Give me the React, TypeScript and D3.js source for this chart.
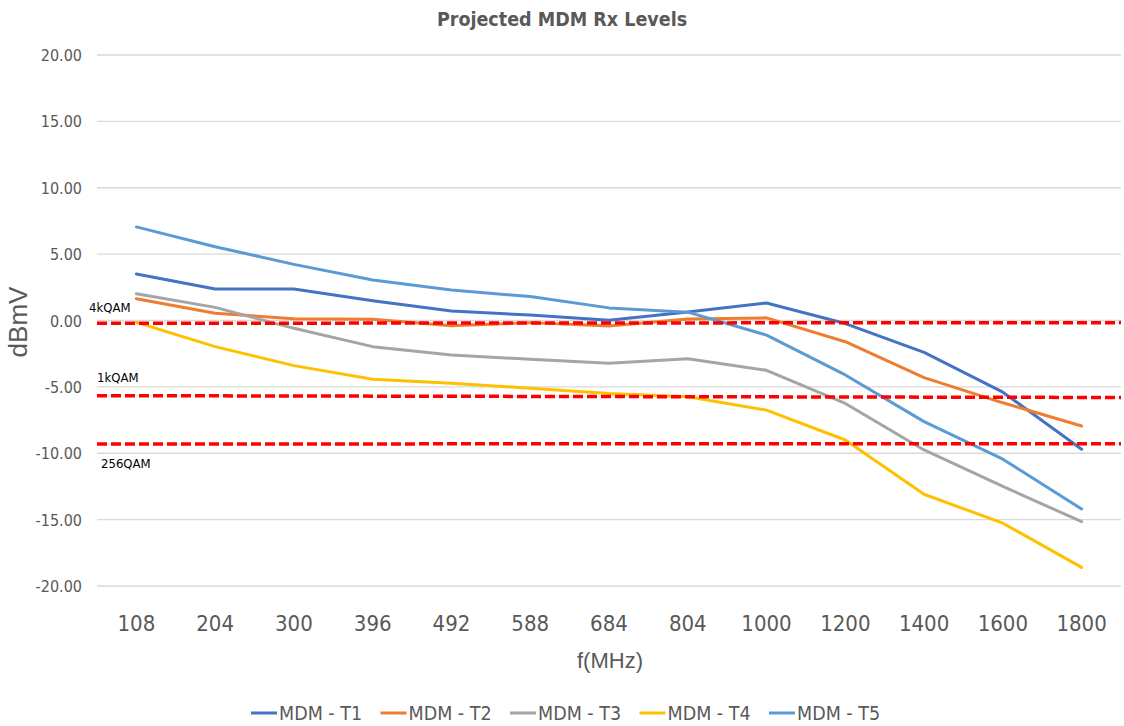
import React from "react";
import * as d3 from "d3";

const categories = ["108", "204", "300", "396", "492", "588", "684", "804", "1000", "1200", "1400", "1600", "1800"];
const seriesNames = ["MDM - T1", "MDM - T2", "MDM - T3", "MDM - T4", "MDM - T5"];
const t1 = [3.5, 2.37, 2.37, 1.49, 0.72, 0.41, 0.02, 0.64, 1.32, -0.23, -2.4, -5.4, -9.7];
const t2 = [1.64, 0.54, 0.14, 0.1, -0.4, -0.16, -0.42, 0.12, 0.2, -1.6, -4.3, -6.2, -7.95];
const t3 = [2.02, 0.99, -0.59, -1.97, -2.6, -2.92, -3.22, -2.88, -3.75, -6.25, -9.75, -12.5, -15.15];
const t4 = [-0.14, -1.97, -3.4, -4.43, -4.73, -5.1, -5.5, -5.75, -6.75, -9.0, -13.09, -15.27, -18.6];
const t5 = [7.05, 5.56, 4.23, 3.05, 2.3, 1.8, 0.95, 0.63, -1.1, -4.1, -7.62, -10.45, -14.2];
const seriesValues = [t1, t2, t3, t4, t5];
const seriesColors = ["#4472C4", "#ED7D31", "#A5A5A5", "#FFC000", "#5B9BD5"];
const thresholdNames = ["4kQAM", "1kQAM", "256QAM"];
const thresholdStart = [-0.21, -5.66, -9.3];
const thresholdEnd = [-0.16, -5.8, -9.28];
const yTicks = [20, 15, 10, 5, 0, -5, -10, -15, -20];

const W = 1124;
const H = 726;
const narrow = "'Liberation Sans Narrow', 'DejaVu Sans Condensed', 'Liberation Sans', sans-serif";
const textColor = "#595959";
const fmt = d3.formatLocale({ decimal: ".", thousands: ",", grouping: [3], currency: ["", ""], minus: "-" }).format(".2f");

export default function App() {
  const x = d3.scaleBand<string>().domain(categories).range([97, 1121]).paddingInner(0).paddingOuter(0);
  const cx = (c: string) => (x(c) as number) + x.bandwidth() / 2;
  const y = d3.scaleLinear().domain([-20, 20]).range([586, 55]);
  const line = d3
    .line<number>()
    .x((_, i) => cx(categories[i]))
    .y((d) => y(d));
  const [x0, x1] = x.range();
  const labelOffsets = [
    { dx: -8, dy: -11 },
    { dx: 0, dy: -14 },
    { dx: 4, dy: 24 },
  ];

  return (
    <svg width={W} height={H} style={{ position: "absolute", left: 0, top: 0, background: "#fff" }}>
      <rect x={0} y={0} width={W} height={H} fill="#fff" />
      <text x={562} y={26} textAnchor="middle" fontFamily={narrow} fontWeight="bold" fontSize={19.5} fill={textColor}>
        Projected MDM Rx Levels
      </text>
      {yTicks.map((t) => (
        <g key={t}>
          <line x1={x0} x2={x1} y1={y(t)} y2={y(t)} stroke="#d9d9d9" strokeWidth={1.3} />
          <text x={82} y={y(t) + 6} textAnchor="end" fontFamily={narrow} fontSize={16} fill={textColor}>
            {fmt(t)}
          </text>
        </g>
      ))}
      {categories.map((c) => (
        <text key={c} x={cx(c)} y={631} textAnchor="middle" fontFamily={narrow} fontSize={22} fill={textColor}>
          {c}
        </text>
      ))}
      <text
        transform={`translate(27,322) rotate(-90)`}
        textAnchor="middle"
        fontFamily="'Liberation Sans', sans-serif"
        fontSize={26}
        fill={textColor}
      >
        dBmV
      </text>
      <text x={610} y={668} textAnchor="middle" fontFamily="'Liberation Sans', sans-serif" fontSize={22} fill={textColor}>
        f(MHz)
      </text>
      {seriesValues.map((vals, i) => (
        <path
          key={seriesNames[i]}
          d={line(vals) as string}
          fill="none"
          stroke={seriesColors[i]}
          strokeWidth={3}
          strokeLinejoin="round"
          strokeLinecap="round"
        />
      ))}
      {thresholdNames.map((n, i) => (
        <g key={n}>
          <line
            x1={x0}
            x2={x1}
            y1={y(thresholdStart[i])}
            y2={y(thresholdEnd[i])}
            stroke="#FF0000"
            strokeWidth={3.5}
            strokeDasharray="10 4"
          />
          <text
            x={x0 + labelOffsets[i].dx}
            y={y(thresholdStart[i]) + labelOffsets[i].dy}
            fontFamily={narrow}
            fontSize={13}
            fill="#000"
          >
            {n}
          </text>
        </g>
      ))}
      {seriesNames.map((n, i) => {
        const lx = 251 + i * 129.5;
        return (
          <g key={n}>
            <line x1={lx} x2={lx + 26} y1={713} y2={713} stroke={seriesColors[i]} strokeWidth={3} />
            <text x={lx + 28} y={720} fontFamily={narrow} fontSize={19.5} fill={textColor}>
              {n}
            </text>
          </g>
        );
      })}
    </svg>
  );
}
